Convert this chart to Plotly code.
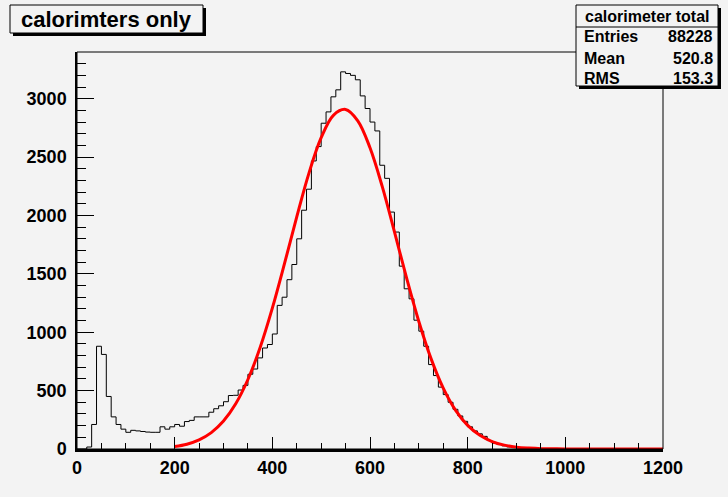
import numpy as np
import plotly.graph_objects as go

# ---------------- data ----------------
bin_width = 10
bin_low_edges = list(range(0, 1200, bin_width))  # 120 bins over 0..1200

counts = [
    0, 0, 17, 210, 880, 810, 450, 275, 210, 170,          # 0-90
    143, 160, 155, 150, 145, 143, 143, 190, 170, 190,     # 100-190
    210, 195, 235, 245, 275, 275, 275, 315, 345, 370,     # 200-290
    405, 458, 460, 505, 545, 640, 685, 780, 865, 895,     # 300-390
    985, 1230, 1300, 1450, 1580, 1800, 2045, 2225, 2467, 2590,   # 400-490
    2790, 2887, 3016, 3076, 3230, 3216, 3200, 3162, 3024, 2916,  # 500-590
    2800, 2724, 2430, 2318, 2029, 1858, 1566, 1372, 1286, 1103,  # 600-690
    1009, 880, 723, 629, 530, 466, 400, 340, 283, 237,    # 700-790
    190, 155, 130, 108, 72, 50, 38, 27, 18, 12,           # 800-890
    8, 6, 4, 3, 2, 1, 0, 0, 0, 0,                         # 900-990
    0, 0, 0, 0, 0, 0, 0, 0, 0, 0,                         # 1000-1090
    0, 0, 0, 0, 0, 0, 0, 0, 0, 0,                         # 1100-1190
]

# fitted gaussian curve
fit_x = [200, 225, 250, 275, 300, 325, 350, 375, 400, 425, 450, 475, 500,
         525, 550, 575, 600, 625, 650, 675, 700, 725, 750, 775, 800, 825,
         850, 875, 900, 925, 950, 975, 1000, 1050, 1100, 1150, 1200]
fit_y = [21, 41, 78, 140, 239, 387, 595, 869, 1206, 1589, 1988, 2363, 2666,
         2858, 2908, 2811, 2580, 2249, 1861, 1463, 1092, 774, 521, 333, 202, 117,
         64, 33, 16, 8, 3, 1.5, 0.5, 0, 0, 0, 0]

title_text = "calorimters only"
stats_title = "calorimeter total"
stats_labels = ["Entries", "Mean", "RMS"]
stats_values = ["88228", "520.8", "153.3"]

x_ticks = [0, 200, 400, 600, 800, 1000, 1200]
y_ticks = [0, 500, 1000, 1500, 2000, 2500, 3000]

# ---------------- layout geometry ----------------
W, H = 728, 497
L, R, T, B = 77, 65, 52, 48
BG = "#f3f3f3"
FONT = "Liberation Sans, Arial, Helvetica, sans-serif"


def px(xp):
    return (xp - L) / (W - L - R)


def py(yp):
    return 1 - (yp - T) / (H - T - B)


hx = bin_low_edges + [bin_low_edges[-1] + bin_width]
hy = counts + [counts[-1]]

fig = go.Figure()
fig.add_trace(go.Scatter(
    x=hx, y=hy, mode="lines", line=dict(color="black", width=1, shape="hv"),
    hoverinfo="skip", showlegend=False))
fig.add_trace(go.Scatter(
    x=fit_x, y=fit_y, mode="lines", line=dict(color="#ff0000", width=3, shape="spline"),
    cliponaxis=False, hoverinfo="skip", showlegend=False))

shapes = []
# frame
shapes.append(dict(type="rect", xref="paper", yref="paper", x0=0, x1=1, y0=0, y1=1,
                   line=dict(color="black", width=1), layer="above"))
# title box shadow + box
shapes.append(dict(type="rect", xref="paper", yref="paper",
                   x0=px(13), x1=px(206), y0=py(36), y1=py(8),
                   fillcolor="black", line=dict(width=0)))
shapes.append(dict(type="rect", xref="paper", yref="paper",
                   x0=px(10), x1=px(203), y0=py(33), y1=py(5),
                   fillcolor=BG, line=dict(color="black", width=1)))
# stats box shadow + box
shapes.append(dict(type="rect", xref="paper", yref="paper",
                   x0=px(579), x1=px(721), y0=py(89), y1=py(8),
                   fillcolor="black", line=dict(width=0)))
shapes.append(dict(type="rect", xref="paper", yref="paper",
                   x0=px(576), x1=px(718), y0=py(86), y1=py(5),
                   fillcolor=BG, line=dict(color="black", width=1)))
shapes.append(dict(type="line", xref="paper", yref="paper",
                   x0=px(576), x1=px(718), y0=py(27), y1=py(27),
                   line=dict(color="black", width=1)))

annotations = []
annotations.append(dict(xref="paper", yref="paper", x=px(106.5), y=py(19.5),
                        text=title_text, showarrow=False, xanchor="center", yanchor="middle",
                        font=dict(family=FONT, size=22, color="black", weight="bold")))
annotations.append(dict(xref="paper", yref="paper", x=px(647), y=py(16),
                        text=stats_title, showarrow=False, xanchor="center", yanchor="middle",
                        font=dict(family=FONT, size=16, color="black", weight="bold")))
row_y = [37, 58, 78]
for lab, val, yy in zip(stats_labels, stats_values, row_y):
    annotations.append(dict(xref="paper", yref="paper", x=px(582), y=py(yy),
                            text=lab, showarrow=False, xanchor="left", yanchor="middle",
                            font=dict(family=FONT, size=16, color="black", weight="bold")))
    annotations.append(dict(xref="paper", yref="paper", x=px(715), y=py(yy),
                            text=val, showarrow=False, xanchor="right", yanchor="middle",
                            font=dict(family=FONT, size=16, color="black", weight="bold")))

tickfont = dict(family=FONT, size=18, color="black", weight="bold")

fig.update_layout(
    width=W, height=H,
    margin=dict(l=L, r=R, t=T, b=B, pad=0),
    paper_bgcolor=BG, plot_bgcolor=BG,
    shapes=shapes, annotations=annotations,
    xaxis=dict(range=[0, 1200], tickvals=x_ticks, ticktext=[str(v) for v in x_ticks],
               ticks="inside", ticklen=12, tickwidth=1, tickcolor="black",
               showline=True, linecolor="black", linewidth=3,
               showgrid=False, zeroline=False, tickfont=tickfont,
               minor=dict(dtick=50, tick0=0, ticks="inside", ticklen=6,
                          tickwidth=1, tickcolor="black", showgrid=False),
               fixedrange=True),
    yaxis=dict(range=[0, 3400], tickvals=y_ticks, ticktext=[str(v) for v in y_ticks],
               ticks="inside", ticklen=17, tickwidth=1, tickcolor="black",
               showline=True, linecolor="black", linewidth=1.5,
               showgrid=False, zeroline=False, tickfont=tickfont,
               ticklabelstandoff=5,
               minor=dict(dtick=100, tick0=0, ticks="inside", ticklen=9,
                          tickwidth=1, tickcolor="black", showgrid=False),
               fixedrange=True),
)

fig.write_html("out.html")
